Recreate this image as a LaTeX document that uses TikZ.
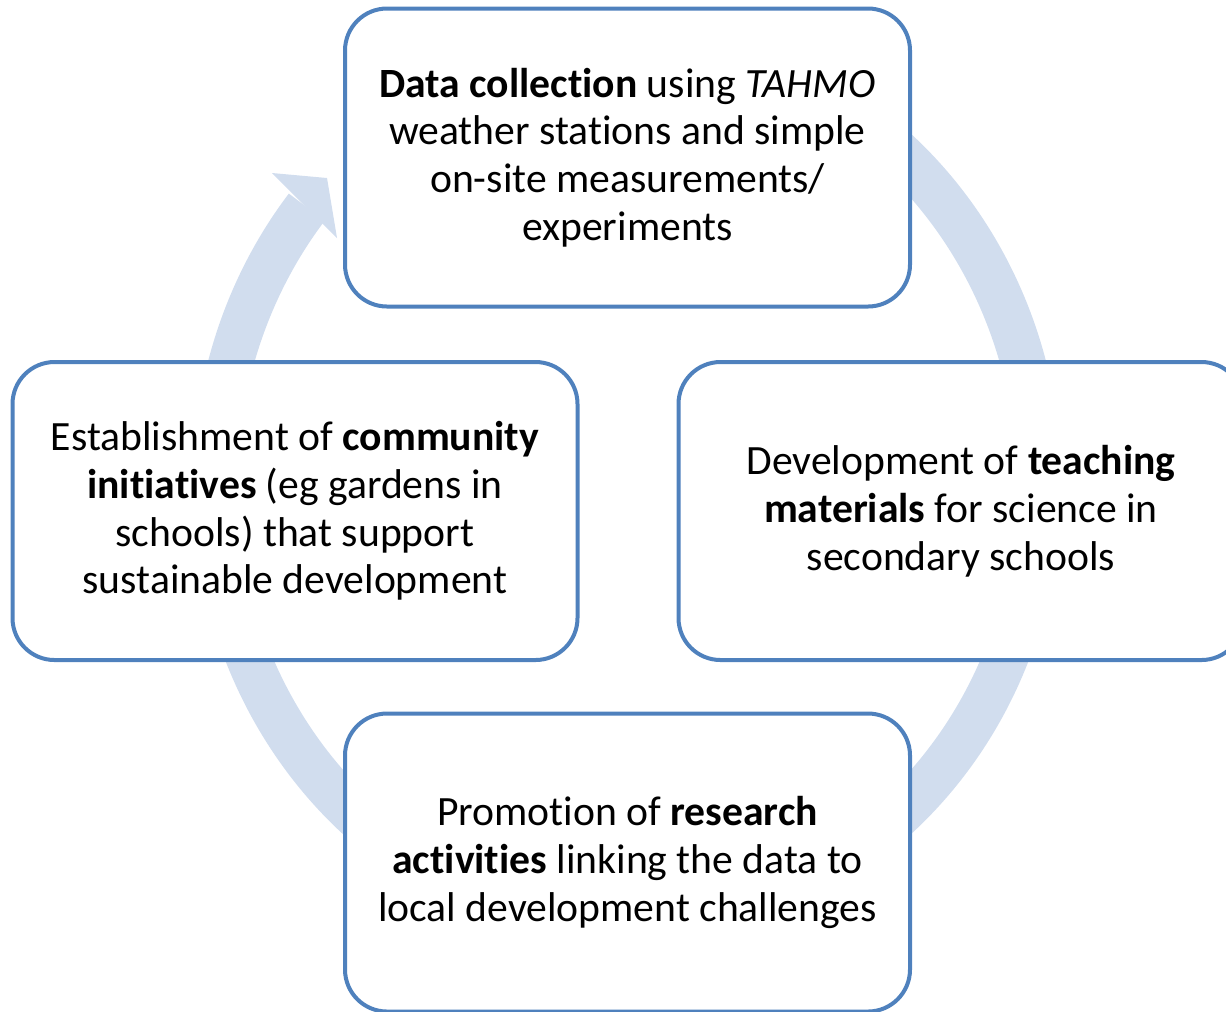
\documentclass[tikz,border=0pt]{standalone}
\usepackage{fontspec}
\setmainfont{Carlito}[Ligatures=NoCommon]
\usetikzlibrary{positioning}
\definecolor{boxblue}{RGB}{79,129,189}
\definecolor{ringblue}{RGB}{209,221,238}
\tikzset{
	x=0.1mm,
	y=-0.1mm,
	stage/.style={
		draw=boxblue,
		fill=white,
		line width=0.4mm,
		rounded corners=4.2mm,
		minimum width=56.5mm,
		minimum height=29.8mm,
		align=center,
		font=\fontsize{11.85}{13.6}\selectfont
	},
	ring/.style={
		draw=ringblue,
		line width=4.5mm
	}
}
\begin{document}
\begin{tikzpicture}
  \useasboundingbox (0,0) rectangle (1226,1011);
  % the cycle arrow behind the boxes
  \coordinate (c) at (627,484);
  \draw [ring] (c) ++(-80:412 and 440)
    arc [start angle=-80, end angle=219, x radius=412, y radius=440];
  \coordinate (barbout) at (272,173);
  \coordinate (tip) at (327,178);
  \coordinate (barbin) at (337,238);
  \fill [ringblue] (barbout) -- (tip) -- (barbin) -- cycle;

  \node [stage] (data) at (627.5,157.5)
    {\textbf{Data collection} using \textit{TAHMO}\\weather stations and simple\\on-site measurements/\\experiments};
  \node [stage] (teach) at (961,511)
    {Development of \textbf{teaching}\\\textbf{materials} for science in\\secondary schools};
  \node [stage] (research) at (627.5,862.5)
    {Promotion of \textbf{research}\\\textbf{activities} linking the data to\\local development challenges};
  \node [stage] (community) at (295,511)
    {Establishment of \textbf{community}\\\textbf{initiatives} (eg gardens in\\schools) that support\\sustainable development};
\end{tikzpicture}
\end{document}
